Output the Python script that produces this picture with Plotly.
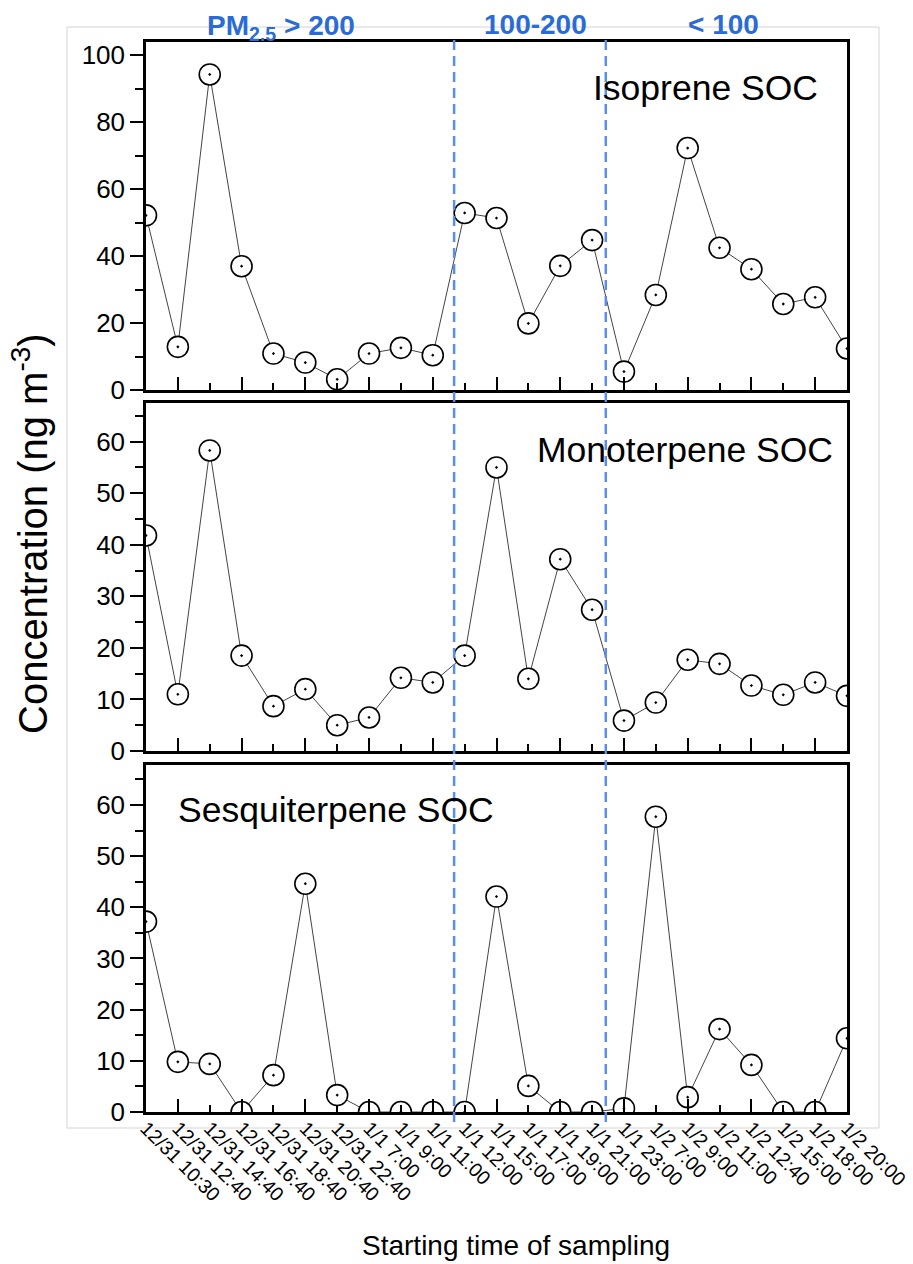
import plotly.graph_objects as go

labels = ["12/31 10:30", "12/31 12:40", "12/31 14:40", "12/31 16:40", "12/31 18:40",
          "12/31 20:40", "12/31 22:40", "1/1 7:00", "1/1 9:00", "1/1 11:00",
          "1/1 12:00", "1/1 15:00", "1/1 17:00", "1/1 19:00", "1/1 21:00",
          "1/1 23:00", "1/2 7:00", "1/2 9:00", "1/2 11:00", "1/2 12:40",
          "1/2 15:00", "1/2 18:00", "1/2 20:00"]

isoprene = [52.2, 12.9, 94.3, 37.0, 10.9, 8.2, 3.2, 10.9, 12.6, 10.4,
            52.9, 51.4, 19.9, 37.1, 44.8, 5.5, 28.4, 72.3, 42.5, 36.1,
            25.7, 27.7, 12.4]
monoterpene = [41.8, 11.0, 58.3, 18.5, 8.7, 12.0, 5.0, 6.5, 14.2, 13.3,
               18.5, 55.0, 14.0, 37.2, 27.4, 5.9, 9.4, 17.7, 16.9, 12.7,
               10.9, 13.3, 10.7]
sesquiterpene = [37.2, 9.8, 9.4, 0.0, 7.2, 44.6, 3.3, 0.0, 0.0, 0.0,
                 0.0, 42.1, 5.1, 0.0, 0.0, 0.7, 57.7, 2.9, 16.2, 9.2,
                 0.0, 0.0, 14.4]

panel_names = ["Isoprene SOC", "Monoterpene SOC", "Sesquiterpene SOC"]
group_names = ["PM<sub>2.5</sub> > 200", "100-200", "< 100"]
dividers = [9.67, 14.43]

x = list(range(len(labels)))
series = [isoprene, monoterpene, sesquiterpene]

FONT = "Liberation Sans, Arial, sans-serif"
BLUE_TXT = "#2A6BD6"
BLUE_LINE = "#5A8FE4"

fig = go.Figure()
for i, vals in enumerate(series):
    n = "" if i == 0 else str(i + 1)
    fig.add_trace(go.Scatter(
        x=x, y=vals, xaxis="x" + n, yaxis="y" + n, mode="lines+markers",
        line=dict(color="#444444", width=1),
        marker=dict(symbol="circle-dot", size=21, color="white",
                    line=dict(color="black", width=1.6)),
        showlegend=False, hoverinfo="skip"))

# invisible helper trace for the label axis
fig.add_trace(go.Scatter(x=[0], y=[0], xaxis="x4", yaxis="y3", mode="markers",
                         marker=dict(opacity=0), showlegend=False, hoverinfo="skip"))

H = 1070.0
W = 701.0
def dom(top_px, bot_px):
    return [(1112 - bot_px) / H, (1112 - top_px) / H]

def px(xp):
    return (xp - 146) / W

def py(yp):
    return (1112 - yp) / H

domains = [dom(42, 390), dom(403, 751), dom(765, 1112)]
yranges = [[0, 104], [0, 67.5], [0, 67.8]]
ydticks = [20, 10, 10]
yminor = [10, 5, 5]

odd = [v for v in x if v % 2 == 1]
even = [v for v in x if v % 2 == 0]

layout = dict(
    width=913, height=1264,
    margin=dict(l=146, r=66, t=42, b=152, autoexpand=False),
    paper_bgcolor="white", plot_bgcolor="white",
    font=dict(family=FONT, color="black"),
)

for i in range(3):
    n = "" if i == 0 else str(i + 1)
    layout["xaxis" + n] = dict(
        domain=[0, 1], anchor="y" + n, range=[0, 22], automargin=False,
        showline=True, linecolor="black", linewidth=2.5, mirror=True,
        tickmode="array", tickvals=odd, ticks="inside", ticklen=13,
        tickwidth=2, tickcolor="black", showticklabels=False,
        showgrid=False, zeroline=False,
        minor=dict(tickmode="array", tickvals=even, ticks="inside", ticklen=7,
                   tickwidth=2, tickcolor="black", showgrid=False),
    )
    layout["yaxis" + n] = dict(
        domain=domains[i], anchor="x" + n, range=yranges[i], automargin=False,
        showline=True, linecolor="black", linewidth=2.5, mirror=True,
        tickmode="linear", tick0=0, dtick=ydticks[i],
        ticks="outside", ticklen=13, tickwidth=2, tickcolor="black",
        tickfont=dict(size=26, family=FONT, color="black"),
        showgrid=False, zeroline=False,
        minor=dict(tick0=0, dtick=yminor[i], ticks="outside", ticklen=8,
                   tickwidth=2, tickcolor="black", showgrid=False),
    )

layout["xaxis4"] = dict(
    overlaying="x3", anchor="y3", side="bottom", range=[0, 22], automargin=False,
    tickmode="array", tickvals=x, ticktext=labels, tickangle=45,
    ticks="", showline=False, showgrid=False, zeroline=False,
    tickfont=dict(size=19.5, family=FONT, color="black"),
)

fig.update_layout(**layout)

shapes = []
for d in dividers:
    shapes.append(dict(type="line", xref="x3", yref="paper", x0=d, x1=d,
                       y0=py(1122), y1=py(40),
                       line=dict(color=BLUE_LINE, width=2.5, dash="10px,6px")))
shapes.append(dict(type="rect", xref="paper", yref="paper",
                   x0=px(67), x1=px(879), y0=py(1128), y1=py(27),
                   line=dict(color="#d4d4d4", width=1), layer="below"))
fig.update_layout(shapes=shapes)

ann = []
label_pos = [(0.962, 0.868, "right"), (0.983, 0.865, "right"), (0.043, 0.87, "left")]
for i, (lx, ly, xa) in enumerate(label_pos):
    n = "" if i == 0 else str(i + 1)
    ann.append(dict(text=panel_names[i], xref="x" + n + " domain", yref="y" + n + " domain",
                    x=lx, y=ly, xanchor=xa, yanchor="middle", showarrow=False,
                    font=dict(size=35.5, family=FONT, color="black")))

group_pos = [(281, 27), (535, 24), (723, 24)]
for (gx, gy), g in zip(group_pos, group_names):
    ann.append(dict(text="<b>" + g + "</b>", xref="paper", yref="paper",
                    x=px(gx), y=py(gy), xanchor="center", yanchor="middle",
                    showarrow=False, font=dict(size=28, family=FONT, color=BLUE_TXT)))

ann.append(dict(text="Concentration (ng m<sup>-3</sup>)", xref="paper", yref="paper",
                x=px(30), y=py(534), textangle=-90,
                xanchor="center", yanchor="middle", showarrow=False,
                font=dict(size=40, family=FONT, color="black")))
ann.append(dict(text="Starting time of sampling", xref="paper", yref="paper",
                x=px(516), y=py(1245),
                xanchor="center", yanchor="middle", showarrow=False,
                font=dict(size=28, family=FONT, color="black")))
fig.update_layout(annotations=ann)

fig.write_html("out.html")
